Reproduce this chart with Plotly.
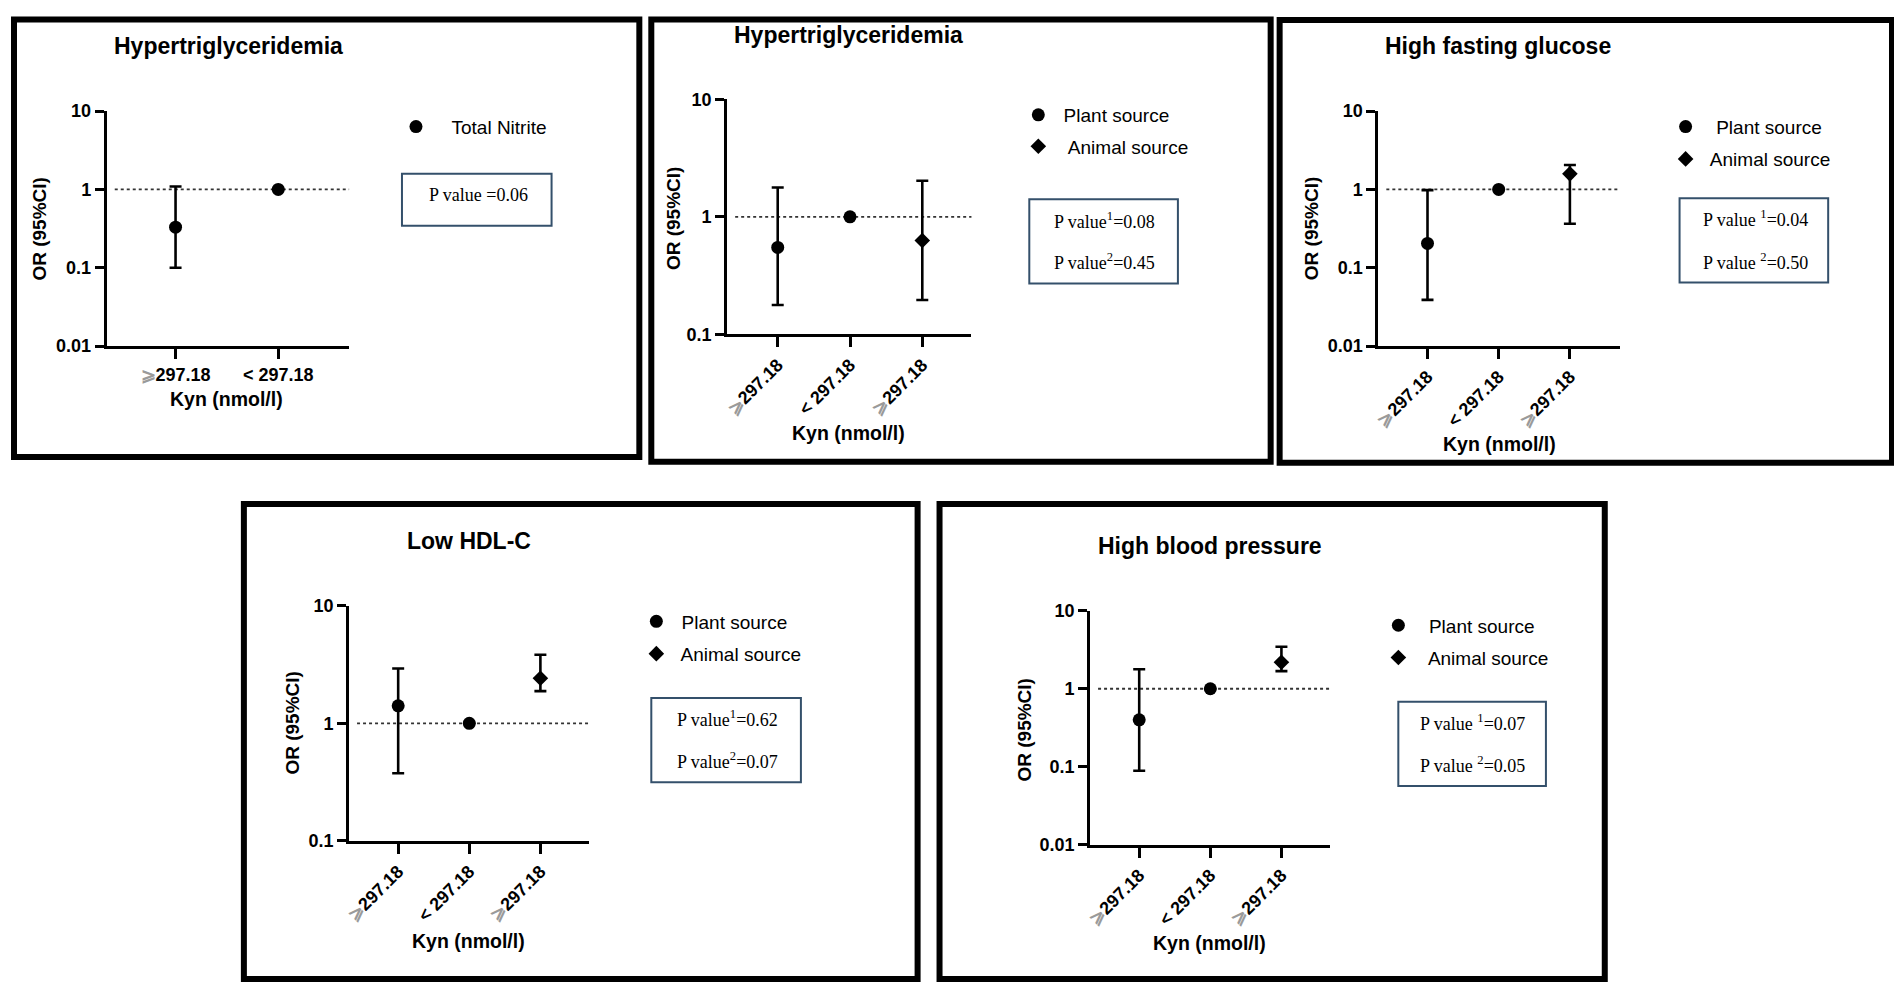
import plotly.graph_objects as go

# target picture 1902 x 999; the page body keeps its default 8px margin
PAGE_W, PAGE_H = 1902, 999
OFF = 8
W, H = PAGE_W - 2 * OFF, PAGE_H - 2 * OFF

# ---------------- data ----------------
titles = ["Hypertriglyceridemia", "Hypertriglyceridemia", "High fasting glucose",
          "Low HDL-C", "High blood pressure"]
x_title = "Kyn (nmol/l)"
y_title = "OR (95%CI)"

cats_2 = ["\u2a7e297.18", "< 297.18"]
cats_3 = ["\u2a7e297.18", "< 297.18", "\u2a7e297.18"]

# panel 1 : Total Nitrite
nitrite_or = [0.33, 1.0]
nitrite_lo = [0.10, None]
nitrite_hi = [1.09, None]

# panels 2-5 : plant (cat 0 and reference cat 1) and animal (cat 2)
plant_or = [[0.55, 1.0], [0.205, 1.0], [1.41, 1.0], [0.40, 1.0]]
plant_lo = [[0.178, None], [0.039, None], [0.376, None], [0.089, None]]
plant_hi = [[1.78, None], [0.98, None], [2.93, None], [1.78, None]]
animal_or = [[0.63], [1.58], [2.42], [2.18]]
animal_lo = [[0.196], [0.365], [1.88], [1.68]]
animal_hi = [[2.03], [2.05], [3.83], [3.45]]

p_values = [["P value =0.06"],
            ["P value<sup>1</sup>=0.08", "P value<sup>2</sup>=0.45"],
            ["P value <sup>1</sup>=0.04", "P value <sup>2</sup>=0.50"],
            ["P value<sup>1</sup>=0.62", "P value<sup>2</sup>=0.07"],
            ["P value <sup>1</sup>=0.07", "P value <sup>2</sup>=0.05"]]

# ---------------- layout geometry (page pixels) ----------------
def fx(px):
    return (px - OFF) / W

def fy(py):
    return 1 - (py - OFF) / H

panels = [
    dict(border=(9, 9.5, 636, 456), xd=(102, 345), yd=(103, 343), xr=(-0.67, 1.69), yr=(-2, 1),
         title=(224, 37), xt=(222, 397), yt=(35, 223), box=(398, 167, 548, 220),
         ptext=[(475, 189)], rot=0),
    dict(border=(648, 9.5, 1269, 461), xd=(724, 969), yd=(91, 331), xr=(-0.70, 2.68), yr=(-1, 1),
         title=(846, 25), xt=(846, 432), yt=(671, 213), box=(1027, 193, 1176, 279),
         ptext=[(1102, 215), (1102, 257)], rot=-45),
    dict(border=(1278, 10, 1892, 462), xd=(1377, 1619), yd=(103, 343), xr=(-0.69, 2.70), yr=(-2, 1),
         title=(1497, 37), xt=(1498, 443), yt=(1310, 223), box=(1679, 192, 1828, 278),
         ptext=[(1755, 213), (1755, 257)], rot=-45),
    dict(border=(239.5, 504, 915, 989), xd=(345, 586), yd=(608, 848), xr=(-0.69, 2.69), yr=(-1, 1),
         title=(465, 542), xt=(465, 950), yt=(288, 728), box=(648, 702, 798, 788),
         ptext=[(724, 723), (724, 766)], rot=-45),
    dict(border=(937, 504, 1604, 989), xd=(1088, 1329), yd=(613, 852), xr=(-0.69, 2.69), yr=(-2, 1),
         title=(1208, 547), xt=(1208, 952), yt=(1022, 735), box=(1397, 706, 1545, 792),
         ptext=[(1471, 727), (1471, 770)], rot=-45),
]

# legend entries: (name, symbol, size, marker centre x, centre y)
legend_items = [
    [("   Total Nitrite", "circle", 13, 412, 119)],
    [(" Plant source", "circle", 13, 1036, 107), ("  Animal source", "diamond", 12, 1036, 139)],
    [("  Plant source", "circle", 13, 1685, 119), (" Animal source", "diamond", 12, 1685, 152)],
    [(" Plant source", "circle", 13, 653, 624), (" Animal source", "diamond", 12, 653, 657)],
    [("  Plant source", "circle", 13, 1397, 628), ("  Animal source", "diamond", 12, 1397, 661)],
]

SANS = "Liberation Sans, Arial, sans-serif"
SERIF = "Liberation Serif, Times New Roman, serif"

fig = go.Figure()


def errs(vals, lo, hi):
    plus = [None if h is None else h - v for v, h in zip(vals, hi)]
    minus = [None if l is None else v - l for v, l in zip(vals, lo)]
    return plus, minus


def add_series(idx, xs, vals, lo, hi, symbol, size):
    plus, minus = errs(vals, lo, hi)
    ax = "" if idx == 0 else str(idx + 1)
    fig.add_trace(go.Scatter(
        x=xs, y=vals, mode="markers", showlegend=False,
        xaxis="x" + ax, yaxis="y" + ax,
        marker=dict(symbol=symbol, size=size, color="black"),
        error_y=dict(type="data", array=plus, arrayminus=minus, symmetric=False,
                     color="black", thickness=2.6, width=6),
    ))


add_series(0, [0, 1], nitrite_or, nitrite_lo, nitrite_hi, "circle", 13)
for k in range(4):
    add_series(k + 1, [0, 1], plant_or[k], plant_lo[k], plant_hi[k], "circle", 13)
    add_series(k + 1, [2], animal_or[k], animal_lo[k], animal_hi[k], "diamond", 12)

shapes = []
annotations = []
layout_axes = {}
legend_layouts = {}
leg_n = 0

for i, p in enumerate(panels):
    ax = "" if i == 0 else str(i + 1)
    cats = cats_2 if i == 0 else cats_3
    ticktext = ["<b>" + c.replace("\u2a7e", "<span style='color:#9a9a9a'>\u2a7e</span>") + "</b>"
                for c in cats]
    layout_axes["xaxis" + ax] = dict(
        domain=[fx(p["xd"][0]), fx(p["xd"][1])], range=list(p["xr"]),
        anchor="y" + ax, showline=True, linecolor="black", linewidth=3,
        ticks="outside", ticklen=10, tickwidth=2.5, tickcolor="black",
        tickvals=list(range(len(cats))), ticktext=ticktext, tickangle=p["rot"],
        tickfont=dict(family=SANS, size=18, color="black"),
        showgrid=False, zeroline=False, fixedrange=True,
    )
    layout_axes["yaxis" + ax] = dict(
        domain=[fy(p["yd"][1]), fy(p["yd"][0])], type="log", range=list(p["yr"]),
        anchor="x" + ax, showline=True, linecolor="black", linewidth=3,
        ticks="outside", ticklen=9, tickwidth=2.5, tickcolor="black",
        tickvals=[0.01, 0.1, 1, 10], ticktext=["<b>0.01</b>", "<b>0.1</b>", "<b>1</b>", "<b>10</b>"],
        tickfont=dict(family=SANS, size=18, color="black"),
        showgrid=False, zeroline=False, fixedrange=True,
    )
    # reference line at OR = 1
    shapes.append(dict(type="line", xref="x" + ax + " domain", yref="y" + ax,
                       x0=0.033, x1=1, y0=1, y1=1,
                       line=dict(color="#333333", width=1.8, dash="dot"), layer="below"))
    # panel border
    bx0, by0, bx1, by1 = p["border"]
    shapes.append(dict(type="rect", xref="paper", yref="paper",
                       x0=fx(bx0), x1=fx(bx1), y0=fy(by1), y1=fy(by0),
                       line=dict(color="black", width=6)))
    # p-value box
    qx0, qy0, qx1, qy1 = p["box"]
    shapes.append(dict(type="rect", xref="paper", yref="paper",
                       x0=fx(qx0), x1=fx(qx1), y0=fy(qy1), y1=fy(qy0),
                       line=dict(color="#34506b", width=2)))
    for (tx, ty), txt in zip(p["ptext"], p_values[i]):
        annotations.append(dict(text=txt, x=fx(tx), y=fy(ty), xref="paper", yref="paper",
                                showarrow=False, xanchor="center", yanchor="middle",
                                font=dict(family=SERIF, size=18, color="black")))
    # titles
    annotations.append(dict(text="<b>" + titles[i] + "</b>", x=fx(p["title"][0]), y=fy(p["title"][1]),
                            xref="paper", yref="paper", showarrow=False,
                            xanchor="center", yanchor="middle",
                            font=dict(family=SANS, size=23, color="black")))
    annotations.append(dict(text="<b>" + x_title + "</b>", x=fx(p["xt"][0]), y=fy(p["xt"][1]),
                            xref="paper", yref="paper", showarrow=False,
                            xanchor="center", yanchor="middle",
                            font=dict(family=SANS, size=19.5, color="black")))
    annotations.append(dict(text="<b>" + y_title + "</b>", x=fx(p["yt"][0]), y=fy(p["yt"][1]),
                            xref="paper", yref="paper", showarrow=False, textangle=-90,
                            xanchor="center", yanchor="middle",
                            font=dict(family=SANS, size=19, color="black")))
    # legends
    for name, sym, size, cx, cy in legend_items[i]:
        leg_n += 1
        lid = "legend" if leg_n == 1 else "legend" + str(leg_n)
        fig.add_trace(go.Scatter(
            x=[None], y=[None], mode="markers", name=name, legend=lid,
            xaxis="x" + ax, yaxis="y" + ax,
            marker=dict(symbol=sym, size=size, color="black"),
        ))
        legend_layouts[lid] = dict(x=fx(cx - 20), y=fy(cy), xanchor="left", yanchor="middle",
                                   bgcolor="rgba(0,0,0,0)", borderwidth=0,
                                   font=dict(family=SANS, size=19, color="black"))

fig.update_layout(
    width=W, height=H, autosize=False,
    margin=dict(l=0, r=0, t=0, b=0),
    paper_bgcolor="white", plot_bgcolor="white",
    shapes=shapes, annotations=annotations,
    **layout_axes, **legend_layouts,
)

fig.write_html("out.html", config={"displayModeBar": False})
